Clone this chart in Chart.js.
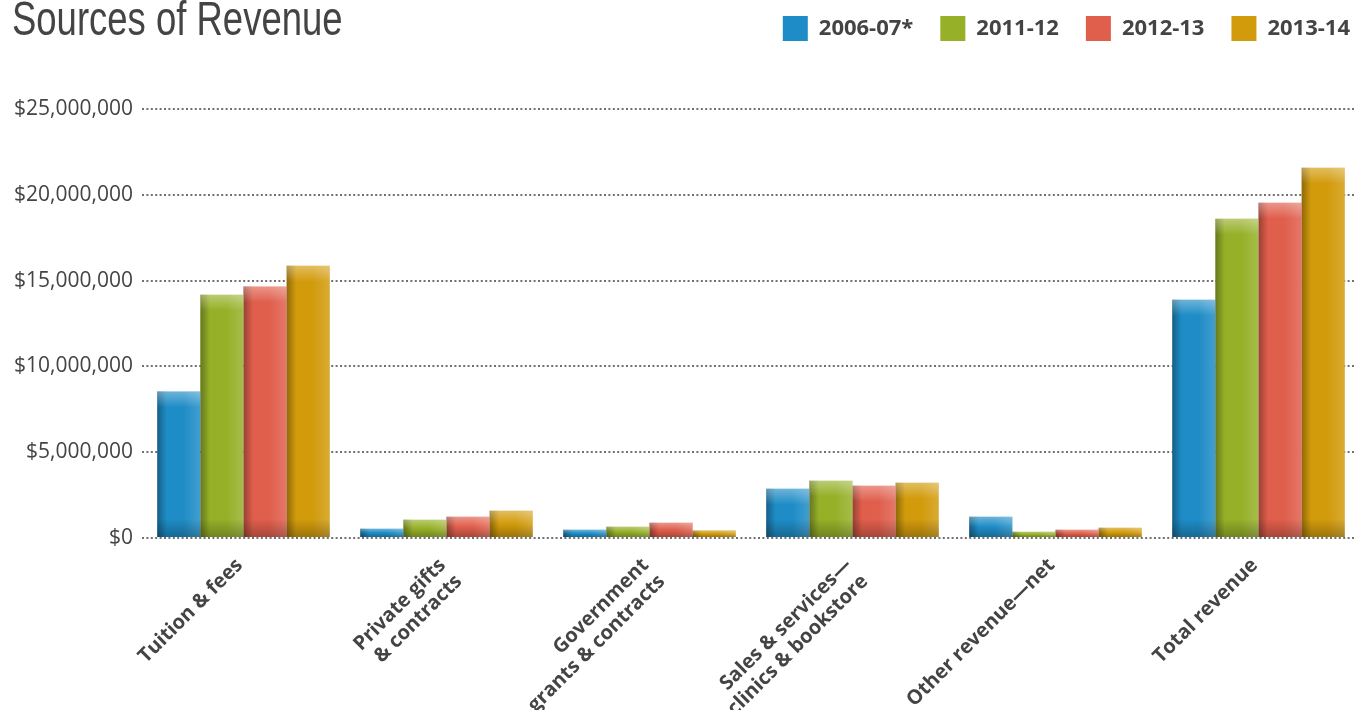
<!DOCTYPE html>
<html>
<head>
<meta charset="utf-8">
<script src="https://cdn.jsdelivr.net/npm/chart.js@4"></script>
<style>
  html, body { margin: 0; padding: 0; background: #fff; overflow: hidden; }
  #wrap { position: relative; width: 1354px; height: 710px; overflow: hidden; }
  #title {
    position: absolute; left: 12px; top: -5px; margin: 0;
    font: normal 48px/1 "Liberation Sans", sans-serif;
    color: #444; transform: scaleX(0.76); transform-origin: left top;
    white-space: nowrap; z-index: 2;
  }
  #box { position: absolute; left: 0; top: -11px; width: 1377px; height: 730px; }
</style>
</head>
<body>
<div id="wrap">
  <h1 id="title">Sources of Revenue</h1>
  <div id="box"><canvas id="revenueChart"></canvas></div>
</div>
<script>
var categories = [
    ['Tuition & fees'],
    ['Private gifts', '& contracts'],
    ['Government', 'grants & contracts'],
    ['Sales & services\u2014', 'clinics & bookstore'],
    ['Other revenue\u2014net'],
    ['Total revenue']
];
var seriesNames = ['2006-07*', '2011-12', '2012-13', '2013-14'];
var rev200607 = [8540000, 540000, 480000, 2870000, 1240000, 13890000];
var rev201112 = [14180000, 1070000, 660000, 3340000, 370000, 18600000];
var rev201213 = [14660000, 1240000, 890000, 3050000, 480000, 19540000];
var rev201314 = [15870000, 1590000, 430000, 3220000, 600000, 21580000];
var yTicks = [0, 5000000, 10000000, 15000000, 20000000, 25000000];

var colors = ['#1e8cc6', '#96b028', '#e05e4c', '#d29b0c'];

// shading on top of each bar, to get the glossy look
var barShade = {
    id: 'barShade',
    afterDatasetsDraw: function (chart) {
        var ctx = chart.ctx;
        chart.data.datasets.forEach(function (ds, i) {
            chart.getDatasetMeta(i).data.forEach(function (bar) {
                var left = bar.x - bar.width / 2;
                var top = Math.min(bar.y, bar.base);
                var h = Math.abs(bar.base - bar.y);
                var g = ctx.createLinearGradient(left, 0, left + bar.width, 0);
                g.addColorStop(0, 'rgba(0,0,0,0.32)');
                g.addColorStop(0.22, 'rgba(0,0,0,0)');
                g.addColorStop(0.6, 'rgba(255,255,255,0)');
                g.addColorStop(1, 'rgba(255,255,255,0.16)');
                ctx.save();
                ctx.fillStyle = g;
                ctx.fillRect(left, top, bar.width, h);
                var th = Math.min(16, h * 0.5);
                var t = ctx.createLinearGradient(0, top, 0, top + th);
                t.addColorStop(0, 'rgba(255,255,255,0.35)');
                t.addColorStop(1, 'rgba(255,255,255,0)');
                ctx.fillStyle = t;
                ctx.fillRect(left, top, bar.width, th);
                var bh = Math.min(18, h * 0.5);
                var b = ctx.createLinearGradient(0, bar.base - bh, 0, bar.base);
                b.addColorStop(0, 'rgba(0,0,0,0)');
                b.addColorStop(1, 'rgba(0,0,0,0.25)');
                ctx.fillStyle = b;
                ctx.fillRect(left, bar.base - bh, bar.width, bh);
                ctx.restore();
            });
        });
    }
};

// push plot area down below the legend
var legendGap = {
    id: 'legendGap',
    beforeInit: function (chart) {
        var fit = chart.legend.fit;
        chart.legend.fit = function () {
            fit.bind(chart.legend)();
            this.height = 120;
        };
    }
};

var ctx = document.getElementById('revenueChart').getContext('2d');
new Chart(ctx, {
    type: 'bar',
    data: {
        labels: categories,
        datasets: [rev200607, rev201112, rev201213, rev201314].map(function (d, i) {
            return {
                label: seriesNames[i],
                data: d,
                backgroundColor: colors[i],
                borderWidth: 0,
                categoryPercentage: 0.85,
                barPercentage: 1.0
            };
        })
    },
    options: {
        responsive: true,
        maintainAspectRatio: false,
        animation: false,
        layout: { padding: 0 },
        plugins: {
            legend: {
                position: 'top',
                align: 'end',
                labels: {
                    boxWidth: 25,
                    boxHeight: 25,
                    padding: 27,
                    color: '#444',
                    font: { family: 'Open Sans', size: 22, weight: 'bold' }
                }
            },
            tooltip: { enabled: false }
        },
        scales: {
            x: {
                grid: { display: false },
                border: { display: false },
                afterFit: function (scale) { scale.height = 730 - 549; },
                ticks: {
                    autoSkip: false,
                    minRotation: 45,
                    maxRotation: 45,
                    padding: 8,
                    labelOffset: -4,
                    color: '#444',
                    font: { family: 'Open Sans', size: 20, weight: 'bold', lineHeight: 1.15 }
                }
            },
            y: {
                min: 0,
                max: 25000000,
                afterFit: function (scale) { scale.width = 142; },
                afterBuildTicks: function (scale) {
                    scale.ticks = yTicks.map(function (v) { return { value: v }; });
                },
                grid: { color: '#707070', lineWidth: 2, drawTicks: false },
                border: { display: false, dash: [2, 2.4] },
                ticks: {
                    padding: 9,
                    color: '#444',
                    font: { family: 'Open Sans', size: 21 },
                    callback: function (value) {
                        return '$' + Number(value).toLocaleString('en-US');
                    }
                }
            },
            // empty axis on the right, only keeps the plot inside the window
            yRight: {
                position: 'right',
                display: true,
                afterFit: function (scale) { scale.width = 17; },
                grid: { display: false },
                border: { display: false },
                ticks: { display: false }
            }
        }
    },
    plugins: [legendGap, barShade]
});
</script>
</body>
</html>
